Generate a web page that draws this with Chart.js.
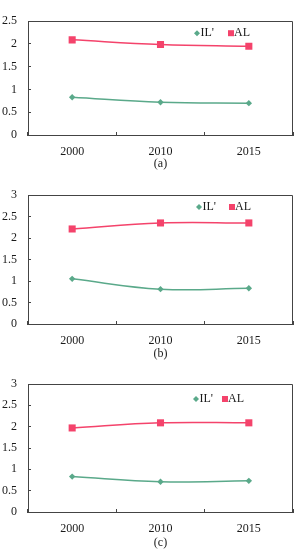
<!DOCTYPE html>
<html>
<head>
<meta charset="utf-8">
<script src="https://cdn.jsdelivr.net/npm/chart.js@4.4.1/dist/chart.umd.min.js"></script>
<style>
  body { margin: 0; background: #fff; }
  #wrap { position: relative; width: 298px; height: 550px; }
  canvas { position: absolute; left: 0; }
</style>
</head>
<body>
<div id="wrap">
  <canvas id="chart-a" width="298" height="171" style="top:0px"></canvas>
  <canvas id="chart-b" width="298" height="190" style="top:171px"></canvas>
  <canvas id="chart-c" width="298" height="189" style="top:361px"></canvas>
</div>
<script>
// data
var years = ['2000', '2010', '2015'];
var seriesNames = ["IL'", 'AL'];
var panelNames = ['(a)', '(b)', '(c)'];

var ilA = [0.83, 0.72, 0.70];
var alA = [2.09, 1.99, 1.95];
var ilB = [1.05, 0.81, 0.83];
var alB = [2.21, 2.35, 2.35];
var ilC = [0.83, 0.71, 0.73];
var alC = [1.97, 2.09, 2.09];

var yMax = [2.5, 3, 3];
var yStep = 0.5;

var ilColor = '#5aa98a';
var alColor = '#f4436b';
var axisColor = '#444';

Chart.defaults.font.size = 12;
Chart.defaults.font.family = '"Liberation Serif", "Times New Roman", serif';
Chart.defaults.color = '#1a1a1a';

// closes the box on top/right and draws the legend inside the plot
var frameAndLegend = {
    id: 'frameAndLegend',
    afterDatasetsDraw: function (chart, args, opts) {
        var ctx = chart.ctx;
        var a = chart.chartArea;
        ctx.save();
        ctx.strokeStyle = axisColor;
        ctx.lineWidth = 1;
        ctx.beginPath();
        ctx.moveTo(Math.round(a.left) + 0.5, Math.round(a.top) + 0.5);
        ctx.lineTo(Math.round(a.right) - 0.5, Math.round(a.top) + 0.5);
        ctx.lineTo(Math.round(a.right) - 0.5, Math.round(a.bottom) + 0.5);
        ctx.stroke();

        var x = a.left + opts.x;
        var y = a.top + opts.dy;
        ctx.textAlign = 'left';
        ctx.textBaseline = 'middle';
        ctx.font = '12px "Liberation Serif", serif';
        chart.data.datasets.forEach(function (ds, i) {
            ctx.fillStyle = ds.backgroundColor;
            if (ds.pointStyle === 'rectRot') {
                var r = 3;
                ctx.beginPath();
                ctx.moveTo(x, y - r);
                ctx.lineTo(x + r, y);
                ctx.lineTo(x, y + r);
                ctx.lineTo(x - r, y);
                ctx.closePath();
                ctx.fill();
                ctx.fillStyle = '#1a1a1a';
                ctx.fillText(ds.label, x + r + 0.5, y);
            } else {
                var s = 6;
                ctx.fillRect(x - s / 2, y - s / 2, s, s);
                ctx.fillStyle = '#1a1a1a';
                ctx.fillText(ds.label, x + s / 2, y);
            }
            x += opts.gap[i] || 0;
        });
        ctx.restore();
    }
};

function makePanel(id, ilData, alData, maxY, title, padTop, axisH, legend) {
    return new Chart(document.getElementById(id), {
        type: 'line',
        data: {
            labels: years,
            datasets: [
                {
                    label: seriesNames[0],
                    data: ilData,
                    borderColor: ilColor,
                    backgroundColor: ilColor,
                    borderWidth: 1.5,
                    pointStyle: 'rectRot',
                    pointRadius: 3.2,
                    pointBorderWidth: 0,
                    tension: 0.4
                },
                {
                    label: seriesNames[1],
                    data: alData,
                    borderColor: alColor,
                    backgroundColor: alColor,
                    borderWidth: 1.5,
                    pointStyle: 'rect',
                    pointRadius: 5,
                    pointBorderWidth: 0,
                    tension: 0.4
                }
            ]
        },
        options: {
            responsive: false,
            animation: false,
            layout: { padding: { top: padTop, right: 3, left: 0, bottom: 0 } },
            plugins: {
                legend: { display: false },
                tooltip: { enabled: false },
                frameAndLegend: legend
            },
            scales: {
                x: {
                    offset: true,
                    grid: {
                        offset: true,
                        drawOnChartArea: false,
                        drawTicks: true,
                        tickLength: -3,
                        color: axisColor
                    },
                    border: { color: axisColor, width: 1 },
                    ticks: { padding: 13, maxRotation: 0 },
                    title: { display: true, text: title, padding: { top: 0, bottom: 0 } },
                    afterFit: function (scale) { scale.height = axisH; }
                },
                y: {
                    min: 0,
                    max: maxY,
                    ticks: {
                        stepSize: yStep,
                        padding: 14,
                        callback: function (v) { return String(Math.round(v * 10) / 10); }
                    },
                    grid: {
                        drawOnChartArea: false,
                        drawTicks: true,
                        tickLength: -3,
                        color: axisColor
                    },
                    border: { color: axisColor, width: 1 },
                    afterFit: function (scale) { scale.width = 28; }
                }
            }
        },
        plugins: [frameAndLegend]
    });
}

makePanel('chart-a', ilA, alA, yMax[0], panelNames[0], 7, 36, { x: 169, dy: 12, gap: [34] });
makePanel('chart-b', ilB, alB, yMax[1], panelNames[1], 24, 37, { x: 171, dy: 12, gap: [33] });
makePanel('chart-c', ilC, alC, yMax[2], panelNames[2], 23, 38, { x: 168, dy: 15, gap: [29] });
</script>
</body>
</html>
